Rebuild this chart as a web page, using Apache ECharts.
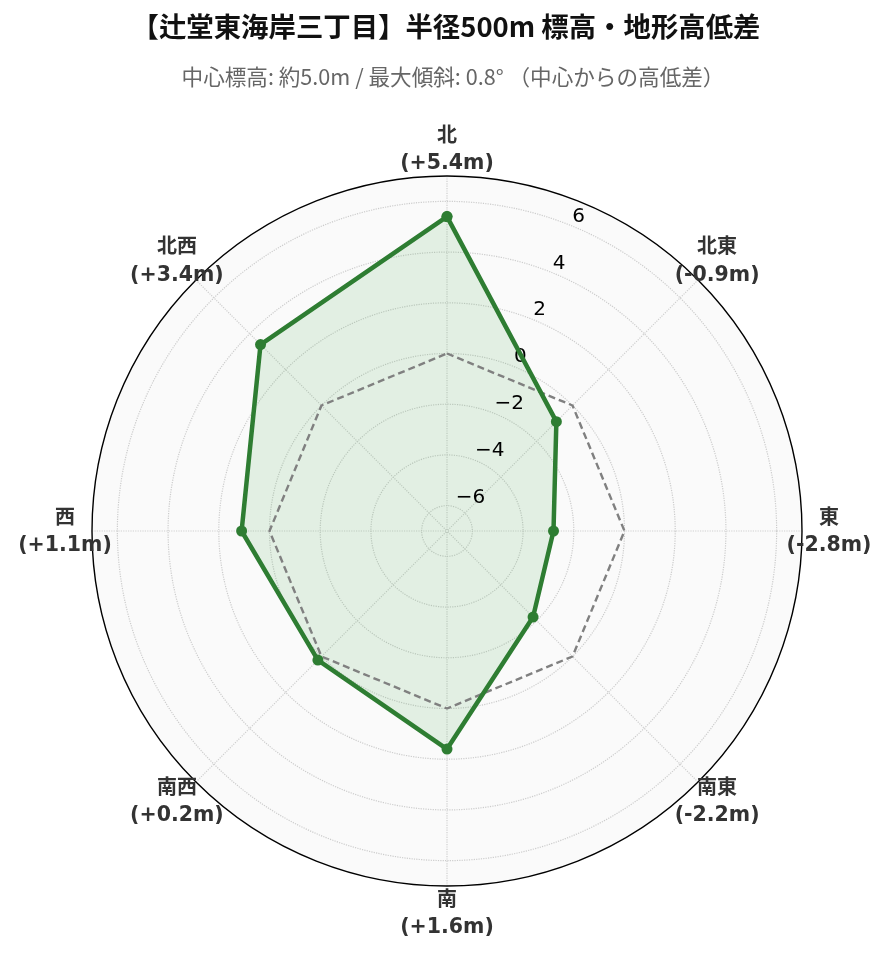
<!DOCTYPE html>
<html>
<head>
<meta charset="utf-8">
<script src="https://cdn.jsdelivr.net/npm/echarts@6/dist/echarts.min.js"></script>
<style>
html,body{margin:0;padding:0;background:#fff;}
#chart{width:889px;height:962px;}
</style>
</head>
<body>
<div id="chart"></div>
<script>
// ---- data ----
const directions = ['北', '北東', '東', '南東', '南', '南西', '西', '北西'];
const directionAngles = [0, 45, 90, 135, 180, 225, 270, 315];
const elevationDiff = [5.4, -0.9, -2.8, -2.2, 1.6, 0.2, 1.1, 3.4];
const referenceLevel = [0, 0, 0, 0, 0, 0, 0, 0];
const radialTicks = [-6, -4, -2, 0, 2, 4, 6];
const radialTickLabels = ['−6', '−4', '−2', '0', '2', '4', '6'];
const radialLabelAngle = 22.5;
const titleText = '【辻堂東海岸三丁目】半径500m 標高・地形高低差';
const subtitleText = '中心標高: 約5.0m / 最大傾斜: 0.8° （中心からの高低差）';

// ---- helpers ----
function closedPairs(values) {
  const pts = values.map((v, i) => [v, directionAngles[i]]);
  pts.push([values[0], 360]);
  return pts;
}
function fmtDiff(v) {
  return '(' + (v >= 0 ? '+' : '') + v.toFixed(1) + 'm)';
}

const latinFont = '"DejaVu Sans", "Noto Sans CJK JP", sans-serif';
const cjkFont = '"Noto Sans CJK JP", "DejaVu Sans", sans-serif';
const center = [447, 531];

const chart = echarts.init(document.getElementById('chart'), null, {renderer: 'canvas'});
chart.setOption({
  animation: false,
  backgroundColor: '#ffffff',
  title: [
    {
      text: titleText, left: 441, textAlign: 'center', top: 8,
      textStyle: {fontFamily: cjkFont, fontSize: 27.4, fontWeight: 'bold', color: '#111'}
    },
    {
      text: subtitleText, left: 448, textAlign: 'center', top: 61,
      textStyle: {fontFamily: cjkFont, fontSize: 21.6, fontWeight: 'normal', color: '#666'}
    }
  ],
  polar: [
    {center: center, radius: 355},
    {center: center, radius: 382},
    {center: center, radius: 355}
  ],
  angleAxis: [
    {
      polarIndex: 0, type: 'value', min: 0, max: 360, interval: 45,
      startAngle: 90, clockwise: true, z: 1,
      axisLine: {show: true, lineStyle: {color: '#000', width: 1.4}},
      axisTick: {show: false},
      axisLabel: {show: false},
      splitLine: {show: true, lineStyle: {color: '#cfcfcf', type: 'dotted', width: 1.2}}
    },
    {
      polarIndex: 1, type: 'value', min: 0, max: 360, interval: 45,
      startAngle: 90, clockwise: true, show: false
    },
    {
      polarIndex: 2, type: 'value', min: 0, max: 360, interval: 45,
      startAngle: 90, clockwise: true, show: false
    }
  ],
  radiusAxis: [
    {
      polarIndex: 0, type: 'value', min: -7, max: 7, interval: 1, z: 1,
      axisLine: {show: false}, axisTick: {show: false}, axisLabel: {show: false},
      splitLine: {show: true, lineStyle: {color: ['rgba(0,0,0,0)', '#cccccc'], type: 'dotted', width: 1.2}}
    },
    {polarIndex: 1, type: 'value', min: 0, max: 1, show: false},
    {
      polarIndex: 2, type: 'value', min: 0, max: 1, interval: 1, z: 0,
      axisLine: {show: false}, axisTick: {show: false}, axisLabel: {show: false},
      splitLine: {show: false},
      splitArea: {show: true, areaStyle: {color: ['#fafafa']}}
    }
  ],
  series: [
    {
      name: 'area', type: 'line', coordinateSystem: 'polar', polarIndex: 0,
      data: closedPairs(elevationDiff), symbol: 'none', silent: true,
      lineStyle: {width: 0},
      areaStyle: {color: 'rgba(76,175,80,0.19)', origin: 'start'},
      z: 2
    },
    {
      name: 'ticks', type: 'scatter', coordinateSystem: 'polar', polarIndex: 0,
      data: radialTicks.map(t => [t, radialLabelAngle]),
      symbolSize: 0, clip: false, silent: true,
      itemStyle: {opacity: 1},
      label: {
        show: true, position: 'right', distance: 0, offset: [-1, -10],
        formatter: p => radialTickLabels[p.dataIndex],
        fontFamily: latinFont, fontSize: 20, color: '#000', opacity: 1
      },
      z: 3
    },
    {
      name: '基準', type: 'line', coordinateSystem: 'polar', polarIndex: 0,
      data: closedPairs(referenceLevel), symbol: 'none', silent: true,
      lineStyle: {color: '#808080', width: 2.4, type: [7, 4]},
      z: 4
    },
    {
      name: '高低差', type: 'line', coordinateSystem: 'polar', polarIndex: 0,
      data: closedPairs(elevationDiff), symbol: 'circle', symbolSize: 11,
      itemStyle: {color: '#2e7d32'},
      lineStyle: {color: '#2e7d32', width: 4.5},
      z: 5
    },
    {
      name: 'dirLabels', type: 'scatter', coordinateSystem: 'polar', polarIndex: 1,
      data: directionAngles.map(a => [1, a]),
      symbolSize: 0, clip: false, silent: true,
      itemStyle: {opacity: 1},
      label: {
        show: true, position: 'inside', opacity: 1,
        formatter: p => '{a|' + directions[p.dataIndex] + '}\n{b|' + fmtDiff(elevationDiff[p.dataIndex]) + '}',
        rich: {
          a: {fontFamily: cjkFont, fontSize: 20, fontWeight: 'bold', color: '#333', lineHeight: 30, align: 'center'},
          b: {fontFamily: latinFont, fontSize: 20.5, fontWeight: 'bold', color: '#333', lineHeight: 30, align: 'center'}
        }
      },
      z: 1
    }
  ]
});
</script>
</body>
</html>
